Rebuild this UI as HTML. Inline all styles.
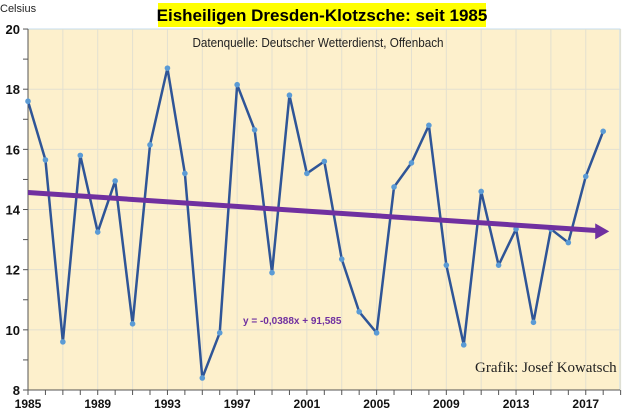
<!DOCTYPE html>
<html><head><meta charset="utf-8"><style>
body{margin:0;background:#fff;width:640px;height:414px;overflow:hidden;font-family:"Liberation Sans",sans-serif}
</style></head><body>
<svg width="640" height="414" id="c">
<rect x="0" y="0" width="640" height="414" fill="#fff"/>
<rect x="158" y="3" width="328" height="24" fill="#ffff00"/>
<text x="322" y="21" text-anchor="middle" font-size="17" font-weight="bold" fill="#000">Eisheiligen Dresden-Klotzsche: seit 1985</text>
<text x="0" y="12" font-size="11" fill="#222">Celsius</text>
<rect x="28" y="29" width="592" height="361" fill="#fdf0cc" stroke="#c5dcee"/>
<g id="grid"></g>
<text x="318" y="47" text-anchor="middle" font-size="13" fill="#222" transform="translate(318 0) scale(0.9 1) translate(-318 0)">Datenquelle: Deutscher Wetterdienst, Offenbach</text>
<text x="475" y="372" font-size="15" font-family="Liberation Serif,serif" fill="#222">Grafik: Josef Kowatsch</text>
<g id="marks"></g>
<text x="243" y="324" font-size="10" font-weight="bold" fill="#7030a0">y = -0,0388x + 91,585</text>
</svg>
<script>
const years=[1985,1986,1987,1988,1989,1990,1991,1992,1993,1994,1995,1996,1997,1998,1999,2000,2001,2002,2003,2004,2005,2006,2007,2008,2009,2010,2011,2012,2013,2014,2015,2016,2017,2018];
const temps=[17.6,15.65,9.6,15.8,13.25,14.95,10.2,16.15,18.7,15.2,8.4,9.9,18.15,16.65,11.9,17.8,15.2,15.6,12.35,10.6,9.9,14.75,15.55,16.8,12.15,9.5,14.6,12.15,13.35,10.25,13.35,12.9,15.1,16.6];
const yTicks=[8,10,12,14,16,18,20];
const xTicks=[1985,1989,1993,1997,2001,2005,2009,2013,2017];
const trendSlope=-0.0388, trendIntercept=91.585;
const NS="http://www.w3.org/2000/svg";
const X=v=>28+(v-1985)*17.43, Y=v=>390-(v-8)*30.08;
const grid=document.getElementById('grid'), marks=document.getElementById('marks');
function mk(tag,attrs,parent){const e=document.createElementNS(NS,tag);for(const k in attrs)e.setAttribute(k,attrs[k]);parent.appendChild(e);return e;}
for(let yr=1987;yr<=2019;yr+=2){const g=mk('line',{x1:X(yr),x2:X(yr),y1:29,y2:390,stroke:'#e3e0d0','stroke-width':1},grid);

}
yTicks.forEach(t=>{if(t>8&&t<20){const g=mk('line',{x1:28,x2:620,y1:Y(t),y2:Y(t),stroke:'#e3e0d0'},grid);

}
const l=mk('text',{x:20,y:Y(t)+5,'text-anchor':'end','font-size':13,'font-weight':'bold',fill:'#111'},grid);l.textContent=t;

});
for(let t=8;t<=20;t++){const tk=mk('line',{x1:23,x2:28,y1:Y(t),y2:Y(t),stroke:'#555'},grid);

}
mk('line',{x1:28,x2:28,y1:29,y2:390,stroke:'#555'},grid);
mk('line',{x1:28,x2:620,y1:390,y2:390,stroke:'#555'},grid);
for(let yr=1985;yr<=2019;yr++){const tk=mk('line',{x1:X(yr),x2:X(yr),y1:390,y2:395,stroke:'#555'},grid);

}
xTicks.forEach(t=>{const l=mk('text',{x:X(t),y:408,'text-anchor':'middle','font-size':12,'font-weight':'bold',fill:'#111'},grid);l.textContent=t;

});
const line=mk('polyline',{points:years.map((y,i)=>X(y)+','+Y(temps[i])).join(' '),fill:'none',stroke:'#2f5597','stroke-width':2.5,'stroke-linejoin':'round'},marks);


years.forEach((y,i)=>{const c=mk('circle',{cx:X(y),cy:Y(temps[i]),r:2.8,fill:'#5b9bd5'},marks);

});
const tx0=1985,tx1=2017.6,ty=x=>trendSlope*x+trendIntercept;
const tr=mk('line',{x1:X(tx0),y1:Y(ty(tx0)),x2:X(tx1),y2:Y(ty(tx1)),stroke:'#7030a0','stroke-width':5},marks);


const ax=X(tx1)+13, ay=Y(ty(tx1+0.75));
const ah=mk('polygon',{points:`${ax},${ay} ${ax-14},${ay-8} ${ax-14},${ay+8}`,fill:'#7030a0'},marks);


</script>
</body></html>
